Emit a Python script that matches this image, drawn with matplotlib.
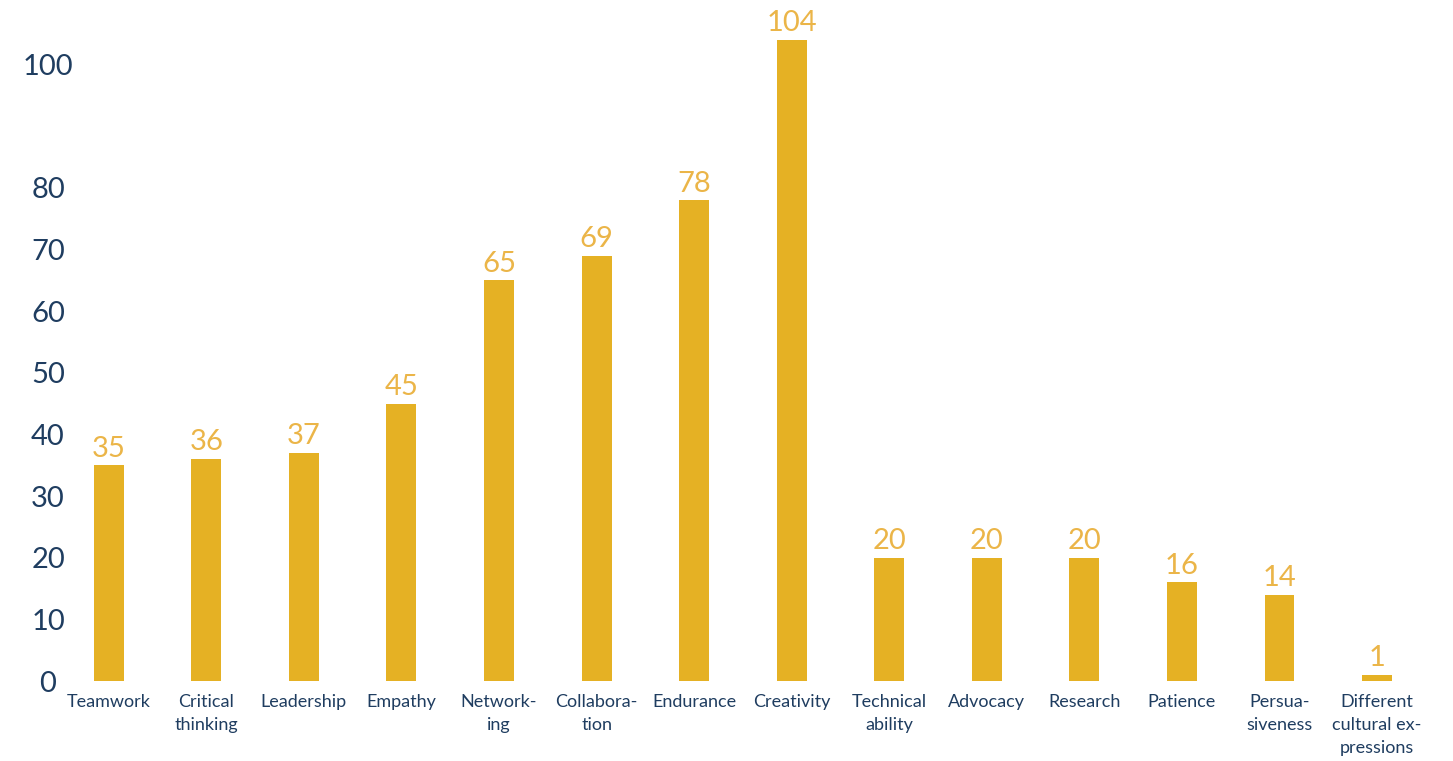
import matplotlib.pyplot as plt
from matplotlib.ticker import FixedLocator
from matplotlib.transforms import ScaledTranslation

plt.rcParams['font.family'] = ['Lato', 'DejaVu Sans']

skills = ["Teamwork", "Critical\nthinking", "Leadership", "Empathy", "Network-\ning",
          "Collabora-\ntion", "Endurance", "Creativity", "Technical\nability", "Advocacy",
          "Research", "Patience", "Persua-\nsiveness", "Different\ncultural ex-\npressions"]
counts = [35, 36, 37, 45, 65, 69, 78, 104, 20, 20, 20, 16, 14, 1]
yticks = [0, 10, 20, 30, 40, 50, 60, 70, 80, 100]

bar_col = "#E5B124"
num_col = "#EBB548"
navy = "#1F3D60"

fig = plt.figure(figsize=(14.53, 7.61), dpi=100)
ax = fig.add_axes([0.0413, 0.1051, 0.940, 0.8909])

x = range(len(skills))
ax.bar(x, counts, width=0.307, color=bar_col)

# value labels sitting on top of each bar
for xi, v in zip(x, counts):
    ax.text(xi, v + 0.6, str(v), ha="center", va="bottom", fontsize=21, color=num_col)

ax.set_xlim(-0.5, len(skills) - 0.5)
ax.set_ylim(0, 110)

ax.yaxis.set_major_locator(FixedLocator(yticks))
ax.set_yticklabels([str(t) for t in yticks], fontsize=21, color=navy, ha="center")
ax.tick_params(axis="y", length=0, pad=0)
ax.set_xticks(list(x))
ax.set_xticklabels(skills, fontsize=13, color=navy, linespacing=1.55, va="top")
ax.tick_params(axis="x", length=0, pad=9)

# centred y labels out in the left margin
for lbl in ax.get_yticklabels():
    lbl.set_transform(lbl.get_transform() + ScaledTranslation(-0.12, 0, fig.dpi_scale_trans))

for s in ax.spines.values():
    s.set_visible(False)

fig.savefig("out.png", dpi=100)
